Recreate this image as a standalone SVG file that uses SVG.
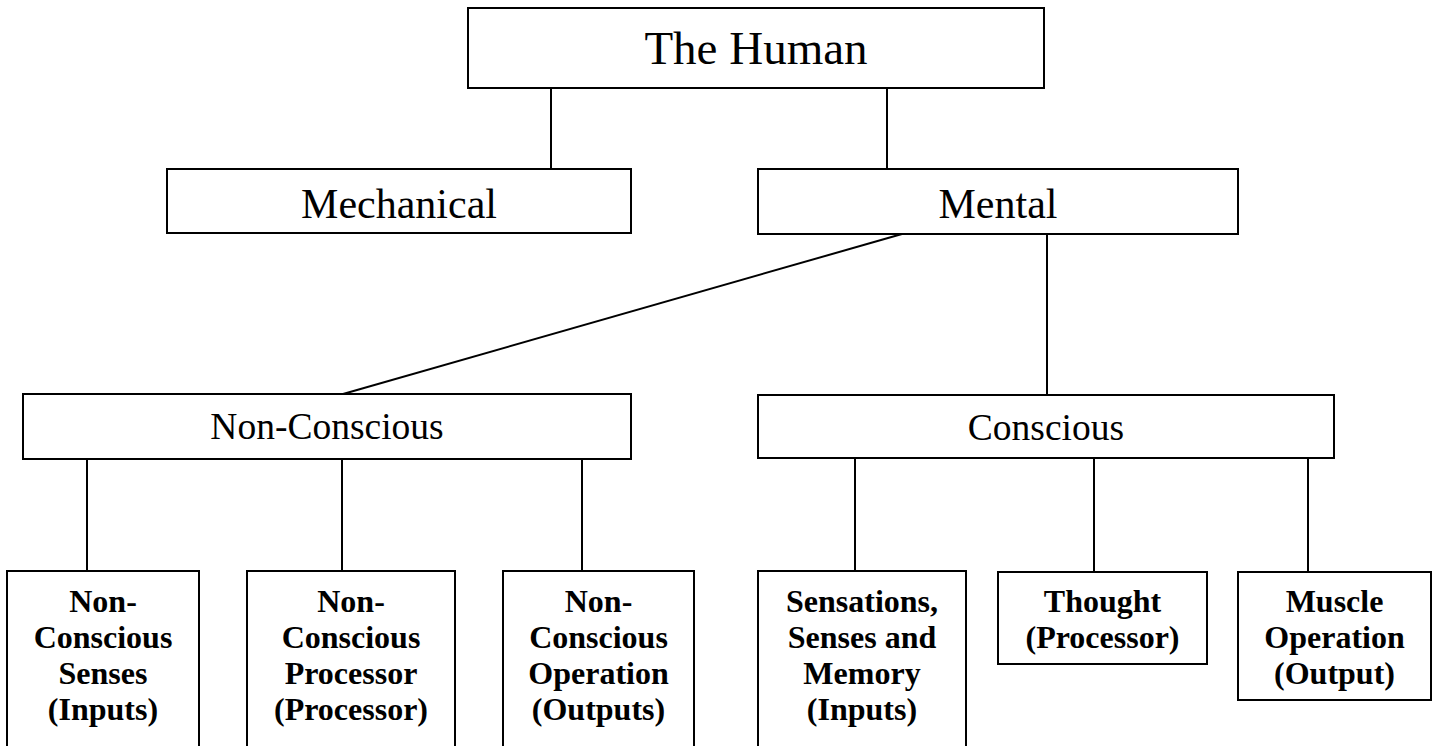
<svg xmlns="http://www.w3.org/2000/svg" width="1433" height="746" viewBox="0 0 1433 746">
<style>
.box{fill:#fff;stroke:#000;stroke-width:2}
.ln{stroke:#000;stroke-width:2;fill:none}
.t{font-family:"Liberation Serif","Times New Roman",serif;fill:#000;text-anchor:middle}
.b{font-family:"Liberation Serif","Times New Roman",serif;font-weight:bold;font-size:32px;fill:#000;text-anchor:middle}
</style>
<rect width="1433" height="746" fill="#fff"/>
<g id="connectors">
<line class="ln" x1="551" y1="88" x2="551" y2="169"/>
<line class="ln" x1="887" y1="88" x2="887" y2="169"/>
<line class="ln" x1="902" y1="234" x2="343" y2="394"/>
<line class="ln" x1="1047" y1="234" x2="1047" y2="395"/>
<line class="ln" x1="87" y1="459" x2="87" y2="571"/>
<line class="ln" x1="342" y1="459" x2="342" y2="571"/>
<line class="ln" x1="582" y1="459" x2="582" y2="571"/>
<line class="ln" x1="855" y1="458" x2="855" y2="571"/>
<line class="ln" x1="1094" y1="458" x2="1094" y2="572"/>
<line class="ln" x1="1308" y1="458" x2="1308" y2="572"/>
</g>
<g id="human">
<rect class="box" x="468" y="8" width="576" height="80"/>
<text class="t" x="756" y="64" font-size="47">The Human</text>
</g>
<g id="mechanical">
<rect class="box" x="167" y="169" width="464" height="64"/>
<text class="t" x="399" y="218" font-size="42">Mechanical</text>
</g>
<g id="mental">
<rect class="box" x="758" y="169" width="480" height="65"/>
<text class="t" x="998" y="218" font-size="42">Mental</text>
</g>
<g id="nonconscious">
<rect class="box" x="23" y="394" width="608" height="65"/>
<text class="t" x="327" y="439" font-size="37.5">Non-Conscious</text>
</g>
<g id="conscious">
<rect class="box" x="758" y="395" width="576" height="63"/>
<text class="t" x="1046" y="440" font-size="37.5">Conscious</text>
</g>
<g id="nc-senses">
<rect class="box" x="7" y="571" width="192" height="190"/>
<text class="b" x="103" y="612">Non-</text>
<text class="b" x="103" y="648">Conscious</text>
<text class="b" x="103" y="684">Senses</text>
<text class="b" x="103" y="720">(Inputs)</text>
</g>
<g id="nc-processor">
<rect class="box" x="247" y="571" width="208" height="190"/>
<text class="b" x="351" y="612">Non-</text>
<text class="b" x="351" y="648">Conscious</text>
<text class="b" x="351" y="684">Processor</text>
<text class="b" x="351" y="720">(Processor)</text>
</g>
<g id="nc-operation">
<rect class="box" x="503" y="571" width="191" height="190"/>
<text class="b" x="598.5" y="612">Non-</text>
<text class="b" x="598.5" y="648">Conscious</text>
<text class="b" x="598.5" y="684">Operation</text>
<text class="b" x="598.5" y="720">(Outputs)</text>
</g>
<g id="sensations">
<rect class="box" x="758" y="571" width="208" height="190"/>
<text class="b" x="862" y="612">Sensations,</text>
<text class="b" x="862" y="648">Senses and</text>
<text class="b" x="862" y="684">Memory</text>
<text class="b" x="862" y="720">(Inputs)</text>
</g>
<g id="thought">
<rect class="box" x="998" y="572" width="209" height="92"/>
<text class="b" x="1102.5" y="612">Thought</text>
<text class="b" x="1102.5" y="648">(Processor)</text>
</g>
<g id="muscle">
<rect class="box" x="1238" y="572" width="193" height="128"/>
<text class="b" x="1334.5" y="612">Muscle</text>
<text class="b" x="1334.5" y="648">Operation</text>
<text class="b" x="1334.5" y="684">(Output)</text>
</g>
</svg>
